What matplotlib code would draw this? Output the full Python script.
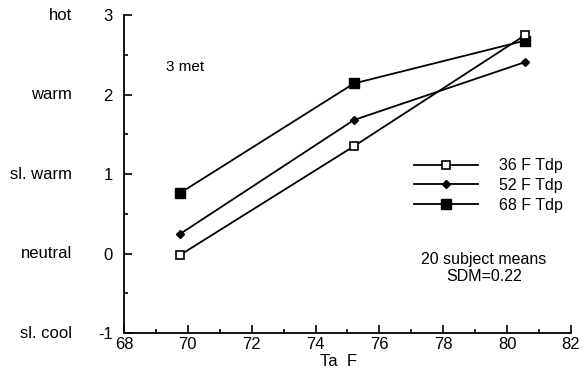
import numpy as np
import matplotlib.pyplot as plt
from matplotlib.ticker import MultipleLocator

plt.rcParams['font.family'] = ['Liberation Sans', 'DejaVu Sans']
plt.rcParams['axes.unicode_minus'] = False

# data
ta = [69.75, 75.2, 80.57]
tdp36 = [-0.02, 1.35, 2.75]
tdp52 = [0.245, 1.68, 2.41]
tdp68 = [0.76, 2.14, 2.68]
series_labels = ['36 F Tdp', '52 F Tdp', '68 F Tdp']

x_ticks = [68, 70, 72, 74, 76, 78, 80, 82]
y_ticks = [-1, 0, 1, 2, 3]
sensation = ['sl. cool', 'neutral', 'sl. warm', 'warm', 'hot']

fig = plt.figure(figsize=(5.83, 3.78), dpi=100)
ax = fig.add_axes([0.2127, 0.119, 0.7667, 0.841])

ax.plot(ta, tdp36, 'k-', lw=1.3, marker='s', ms=6, mfc='white', mec='k', mew=1.2,
        label=series_labels[0], zorder=3)
ax.plot(ta, tdp52, 'k-', lw=1.3, marker='D', ms=4.5, mfc='k', mec='k',
        label=series_labels[1], zorder=2)
ax.plot(ta, tdp68, 'k-', lw=1.3, marker='s', ms=6.5, mfc='k', mec='k',
        label=series_labels[2], zorder=2)

ax.set_xlim(68, 82)
ax.set_ylim(-1, 3)
ax.set_xticks(x_ticks)
ax.set_yticks(y_ticks)
ax.xaxis.set_minor_locator(MultipleLocator(1))
ax.yaxis.set_minor_locator(MultipleLocator(0.5))
ax.tick_params(which='both', direction='in', width=1.2)
ax.tick_params(which='major', length=6)
ax.tick_params(which='minor', length=3)
ax.tick_params(axis='y', pad=8, labelsize=12)
ax.tick_params(axis='x', pad=3, labelsize=12)
for s in ['top', 'right']:
    ax.spines[s].set_visible(False)
for s in ['left', 'bottom']:
    ax.spines[s].set_linewidth(1.3)

# sensation scale at left
for yv, name in zip(y_ticks, sensation):
    ax.text(-0.116, yv, name, transform=ax.get_yaxis_transform(),
            ha='right', va='center', fontsize=12)

ax.set_xlabel('Ta  F', fontsize=12, labelpad=1, x=0.48)

ax.text(69.3, 2.35, '3 met', fontsize=11, ha='left', va='center')
ax.text(79.27, -0.18, '20 subject means\nSDM=0.22', fontsize=11.5,
        ha='center', va='center', linespacing=1.2)

ax.legend(loc='upper left', bbox_to_anchor=(0.632, 0.575), frameon=False,
          fontsize=11.5, handlelength=4.0, handletextpad=1.3,
          labelspacing=0.3, borderpad=0)

fig.savefig('out.png', dpi=100)
